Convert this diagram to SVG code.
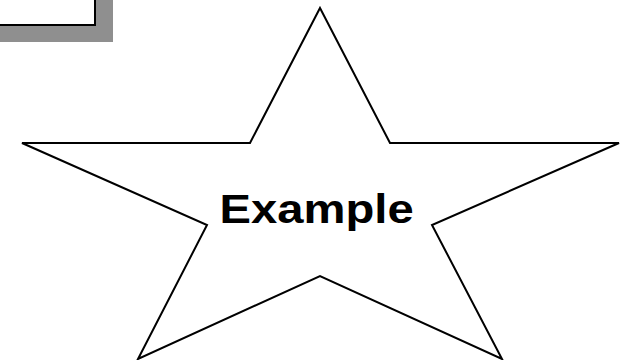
<svg xmlns="http://www.w3.org/2000/svg" width="627" height="360" viewBox="0 0 627 360">
<style>
.shadow{fill:#8f8f8f;stroke:none}
.box{fill:#ffffff;stroke:#000;stroke-width:2}
.star{fill:#ffffff;stroke:#000;stroke-width:2;stroke-linejoin:miter}
.lbl{font-family:"Liberation Sans",Arial,sans-serif;font-weight:bold;font-size:40px;fill:#000}
</style>
<rect width="627" height="360" fill="#ffffff"/>
<g id="box">
<rect class="shadow" x="-80" y="-80" width="193" height="122"/>
<rect class="box" x="-100" y="-100" width="195" height="125"/>
</g>
<g id="star">
<polygon class="star" points="320,8 390,143 619,143 432,225 502,359 320,276 138,359 207,225 22,143 250,143"/>
<text class="lbl" transform="translate(219.6,223) scale(1.18,1)" x="0" y="0">Example</text>
</g>
</svg>
